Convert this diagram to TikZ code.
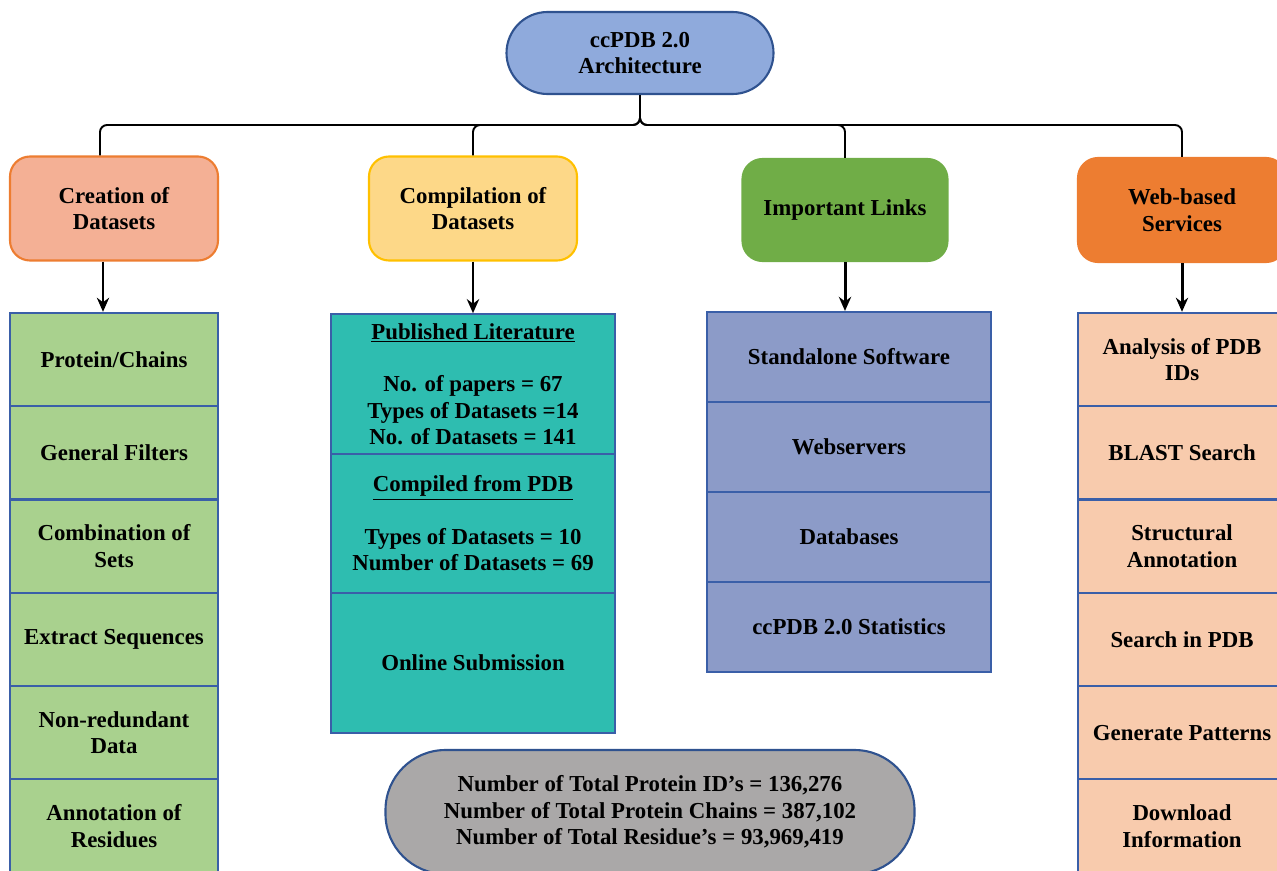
\documentclass[tikz,border=0pt]{standalone}
\usepackage{fontspec}
\setmainfont{Liberation Serif}
\usetikzlibrary{positioning,arrows.meta}
\definecolor{rootblue}{HTML}{8FAADC}
\definecolor{edgeblue}{HTML}{2F528F}
\definecolor{salmon}{HTML}{F4B095}
\definecolor{salmonedge}{HTML}{ED7D31}
\definecolor{gold}{HTML}{FDD888}
\definecolor{goldedge}{HTML}{FFC000}
\definecolor{leaf}{HTML}{70AD47}
\definecolor{tangerine}{HTML}{ED7D31}
\definecolor{lightgreen}{HTML}{A9D18E}
\definecolor{teal}{HTML}{2EBDB0}
\definecolor{lavender}{HTML}{8C9BC8}
\definecolor{peach}{HTML}{F8CBAD}
\definecolor{stone}{HTML}{AAA8A8}
\definecolor{celledge}{HTML}{3A5FA8}
\begin{document}
\begin{tikzpicture}[font=\bfseries\fontsize{13}{15}\selectfont]
  \tikzstyle{hdr} = [rectangle, rounded corners=0.4cm, minimum width=4.16cm, minimum height=2.08cm, align=center, line width=1.2pt]
  \tikzstyle{cell} = [rectangle, align=center, draw=celledge, line width=1.2pt]
  \tikzstyle{gcell} = [cell, fill=lightgreen, minimum width=4.16cm, minimum height=1.866cm, node distance=1.866cm]
  \tikzstyle{pcell} = [cell, fill=peach, minimum width=4.16cm, minimum height=1.866cm, node distance=1.866cm]
  \tikzstyle{tcell} = [cell, fill=teal, minimum width=5.68cm, minimum height=2.79cm, node distance=2.79cm]
  \tikzstyle{lcell} = [cell, fill=lavender, minimum width=5.68cm, minimum height=1.8cm, node distance=1.8cm]
  \tikzstyle{link} = [line width=1.1pt, rounded corners=4pt]
  \tikzstyle{arrow} = [line width=1.7pt,->,>={Stealth[length=8pt,width=7pt]}]

  \useasboundingbox (0,0) rectangle (25.54,-17.4);

  \node (root) [rectangle, rounded corners=0.82cm, minimum width=5.34cm, minimum height=1.64cm, align=center, fill=rootblue, draw=edgeblue, line width=1.2pt] at (12.8,-1.06) {ccPDB 2.0\\Architecture};
  \coordinate (bus) at (0,-2.5);

  \node (create) [hdr, fill=salmon, draw=salmonedge] at (2.28,-4.17) {Creation of\\Datasets};
  \node (compile) [hdr, fill=gold, draw=goldedge] at (9.46,-4.17) {Compilation of\\Datasets};
  \node (links) [hdr, fill=leaf, draw=leaf, minimum width=4.1cm, minimum height=2.04cm] at (16.9,-4.2) {Important Links};
  \node (web) [hdr, fill=tangerine, draw=tangerine] at (23.64,-4.2) {Web-based\\Services};

  \draw [link] (root.south) |- ([xshift=-0.28cm]create.north |- bus) -- ([xshift=-0.28cm]create.north);
  \draw [link] (root.south) |- (compile.north |- bus) -- (compile.north);
  \draw [link] (root.south) |- (links.north |- bus) -- (links.north);
  \draw [link] (root.south) |- (web.north |- bus) -- (web.north);

  \node (chains) [gcell] at (2.28,-7.19) {Protein/Chains};
  \node (filters) [gcell, below of=chains] {General Filters};
  \node (combine) [gcell, below of=filters] {Combination of\\Sets};
  \node (extract) [gcell, below of=combine] {Extract Sequences};
  \node (nonred) [gcell, below of=extract] {Non-redundant\\Data};
  \node (annot) [gcell, below of=nonred] {Annotation of\\Residues};

  \node (lit) [tcell] at (9.46,-7.68) {\underline{Published Literature}\\[15pt]No. of papers = 67\\Types of Datasets =14\\No. of Datasets = 141};
  \node (frompdb) [tcell, below of=lit] {\underline{Compiled from PDB}\\[15pt]Types of Datasets = 10\\Number of Datasets = 69};
  \node (submit) [tcell, below of=frompdb] {Online Submission};

  \node (soft) [lcell] at (16.98,-7.14) {Standalone Software};
  \node (servers) [lcell, below of=soft] {Webservers};
  \node (dbs) [lcell, below of=servers] {Databases};
  \node (stats) [lcell, below of=dbs] {ccPDB 2.0 Statistics};

  \node (pdbids) [pcell] at (23.64,-7.19) {Analysis of PDB\\IDs};
  \node (blast) [pcell, below of=pdbids] {BLAST Search};
  \node (struct) [pcell, below of=blast] {Structural\\Annotation};
  \node (search) [pcell, below of=struct] {Search in PDB};
  \node (patterns) [pcell, below of=search] {Generate Patterns};
  \node (download) [pcell, below of=patterns] {Download\\Information};

  \draw [arrow] ([xshift=-0.22cm]create.south) -- ([xshift=-0.22cm]chains.north);
  \draw [arrow] (compile.south) -- (lit.north);
  \draw [arrow] (links.south) -- (links.south |- soft.north);
  \draw [arrow] (web.south) -- (pdbids.north);

  \node (totals) [rectangle, rounded corners=1.2cm, minimum width=10.58cm, minimum height=2.48cm, align=center, fill=stone, draw=edgeblue, line width=1.2pt] at (13.0,-16.24) {Number of Total Protein ID’s = 136,276\\Number of Total Protein Chains = 387,102\\Number of Total Residue’s = 93,969,419};
\end{tikzpicture}
\end{document}
